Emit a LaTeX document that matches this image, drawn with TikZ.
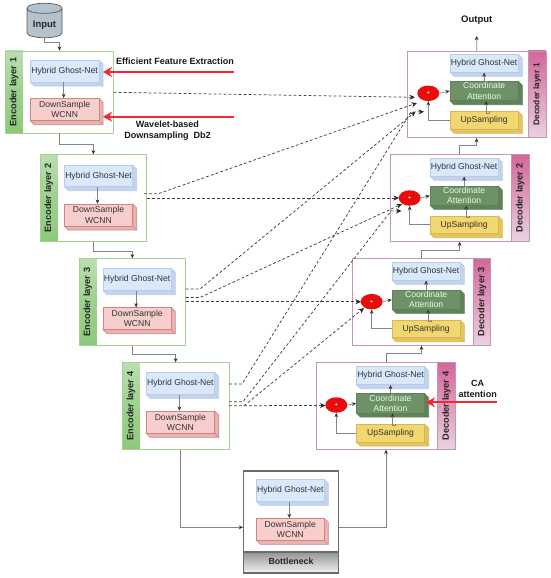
\documentclass[tikz,border=0pt]{standalone}
\usepackage{fontspec}
\setmainfont{Liberation Sans}
\usetikzlibrary{arrows.meta,calc,shapes.geometric}
\definecolor{hbF}{HTML}{DAE8FC}\definecolor{hbS}{HTML}{B9CDEA}\definecolor{hbD}{HTML}{C3D4EE}
\definecolor{dwF}{HTML}{F8CECC}\definecolor{dwS}{HTML}{CF8583}\definecolor{dwD}{HTML}{E8B4B2}
\definecolor{caF}{HTML}{6F9168}\definecolor{caS}{HTML}{5F8258}\definecolor{caD}{HTML}{5F8258}
\definecolor{upF}{HTML}{F2D66F}\definecolor{upS}{HTML}{D6B656}\definecolor{upD}{HTML}{E3C65E}
\definecolor{encL}{HTML}{A5D195}\definecolor{encD}{HTML}{8CC97A}\definecolor{decL}{HTML}{C198B4}
\definecolor{decT}{HTML}{D5669A}\definecolor{decB}{HTML}{E8D2E0}
\definecolor{inF}{HTML}{B4C2CE}\definecolor{redA}{HTML}{FA2433}\definecolor{redC}{HTML}{E80C0C}
\definecolor{txt}{HTML}{333333}\definecolor{wire}{HTML}{858585}
\tikzset{
  frameE/.style={draw=encL,line width=.8pt,fill=white,inner sep=0pt},
  frameD/.style={draw=decL,line width=.8pt,fill=white,inner sep=0pt},
  frameB/.style={draw=black!58,line width=1.4pt,fill=white,inner sep=0pt},
  bandtext/.style={rotate=90,font=\bfseries\fontsize{9.2}{10}\selectfont,text=black!85,inner sep=0pt},
  wirearrow/.style={draw=wire,line width=.8pt,-{Stealth[length=4.2pt,width=3.8pt,color=black!80]}},
  dasharrow/.style={draw=black!75,line width=.75pt,dash pattern=on 2.8pt off 2.2pt,-{Stealth[length=5.5pt,width=5pt,color=black!85]}},
  redarrow/.style={draw=redA,color=redA,line width=1.7pt,-{Stealth[length=9pt,width=10pt]}},
  note/.style={font=\bfseries\fontsize{9.05}{10.9}\selectfont,text=black!90,align=center,inner sep=0pt},
  addnode/.style={ellipse,fill=redC,inner sep=0pt},
}
% name x1 y1 x2 y2 fill stroke side textcolor
\newcommand{\boxlabel}{}
\newcommand{\cubebox}[9]{%
  \pgfmathsetmacro{\xa}{#2}\pgfmathsetmacro{\ya}{#3}\pgfmathsetmacro{\xb}{#4}\pgfmathsetmacro{\yb}{#5}
  \pgfmathsetmacro{\xf}{\xb-4}\pgfmathsetmacro{\yf}{\yb-4}
  \pgfmathsetmacro{\xg}{\xa+4}\pgfmathsetmacro{\yg}{\ya+4}
  \pgfmathsetmacro{\cenx}{(\xa+\xf)/2}\pgfmathsetmacro{\ceny}{(\ya+\yf)/2}
  \pgfmathsetmacro{\bw}{\xf-\xa}\pgfmathsetmacro{\bh}{\yf-\ya}
  \filldraw[fill=#8,draw=#7,line width=.6pt] (\xf,\ya)--(\xb,\yg)--(\xb,\yb)--(\xg,\yb)--(\xa,\yf)--(\xf,\yf)--cycle;
  \draw[draw=#7,line width=.6pt] (\xf,\yf)--(\xb,\yb);
  \node[fill=#6,draw=#7,line width=.6pt,minimum width=\bw pt,minimum height=\bh pt,inner sep=0pt,align=center,
    font=\fontsize{8.6}{10.4}\selectfont,text=#9] (#1) at (\cenx,\ceny) {\boxlabel};
}
\newcommand{\hyb}[5]{\renewcommand{\boxlabel}{Hybrid Ghost-Net}\cubebox{#1}{#2}{#3}{#4}{#5}{hbF}{hbS}{hbD}{txt}}
\newcommand{\dwn}[5]{\renewcommand{\boxlabel}{DownSample\\WCNN}\cubebox{#1}{#2}{#3}{#4}{#5}{dwF}{dwS}{dwD}{txt}}
\newcommand{\coa}[5]{\renewcommand{\boxlabel}{Coordinate\\Attention}\cubebox{#1}{#2}{#3}{#4}{#5}{caF}{caS}{caD}{white!88!green}}
\newcommand{\ups}[5]{\renewcommand{\boxlabel}{UpSampling}\cubebox{#1}{#2}{#3}{#4}{#5}{upF}{upS}{upD}{txt}}
\newcommand{\outerbox}[6]{%
  \pgfmathsetmacro{\cenx}{(#2+#4)/2}\pgfmathsetmacro{\ceny}{(#3+#5)/2}
  \pgfmathsetmacro{\bw}{#4-(#2)}\pgfmathsetmacro{\bh}{#5-(#3)}
  \node[#6,minimum width=\bw pt,minimum height=\bh pt] (#1) at (\cenx,\ceny) {};
}
\newcommand{\encoder}[7]{% id n x1 y1 x2 y2 band-right
  \outerbox{e#1}{#3}{#4}{#5}{#6}{frameE}
  \shade[bottom color=encD,top color=encD!60,middle color=encD!85] (#3,#4) rectangle (#7,#6);
  \draw[encL,line width=.8pt] (#3,#4) rectangle (#5,#6);
  \pgfmathsetmacro{\lx}{(#3+#7)/2}\pgfmathsetmacro{\ly}{(#4+#6)/2}
  \node[bandtext] (el#1) at (\lx,\ly) {Encoder layer #2};
}
\newcommand{\decoder}[7]{% id n x1 y1 x2 y2 band-left
  \outerbox{d#1}{#3}{#4}{#5}{#6}{frameD}
  \shade[top color=decT,bottom color=decB] (#7,#4) rectangle (#5,#6);
  \draw[decL,line width=.8pt] (#3,#4) rectangle (#5,#6);
  \draw[decL,line width=.8pt] (#7,#4) -- (#7,#6);
  \pgfmathsetmacro{\lx}{(#7+#5)/2}\pgfmathsetmacro{\ly}{(#4+#6)/2}
  \node[bandtext] (dl#1) at (\lx,\ly) {Decoder layer #2};
}
\newcommand{\addcircle}[3]{%
  \node[addnode,minimum width=22pt,minimum height=15.5pt] (#1) at (#2,#3) {};
  \node[font=\bfseries\fontsize{5}{5}\selectfont,text=white,inner sep=0pt] (#1t) at (#2,#3) {+};
}
\begin{document}
\begin{tikzpicture}[x=1pt,y=-1pt]
\useasboundingbox (0,0) rectangle (550,578);
% input
\filldraw[fill=inF,draw=black!65,line width=.7pt]
  (27,8.3)--(27,32.7) .. controls (27,39.4) and (62,39.4) .. (62,32.7)--(62,8.3)
  .. controls (62,1.6) and (27,1.6) .. (27,8.3)
  .. controls (27,15) and (62,15) .. (62,8.3);
\node[font=\bfseries\fontsize{9.5}{11}\selectfont,text=black!85,minimum width=35pt,minimum height=25.4pt,inner sep=0pt] (input) at (44.5,25) {Input};
% encoders
\encoder{1}{1}{5.3}{51}{113.7}{133}{22.5}
\encoder{2}{2}{40}{154.7}{146.7}{241.3}{57.7}
\encoder{3}{3}{79}{258.7}{185.7}{345.3}{96.7}
\encoder{4}{4}{122.3}{362.7}{229}{449.3}{139.7}
\hyb{h1}{30.3}{60}{103}{86}\dwn{w1}{30.3}{98.3}{103}{124.7}
\hyb{h2}{64.3}{165}{136.7}{190.7}\dwn{w2}{64.3}{204}{136.7}{230}
\hyb{h3}{103}{268.3}{175.3}{294.7}\dwn{w3}{103}{307.7}{175.3}{333.7}
\hyb{h4}{146}{372.3}{218.7}{398.3}\dwn{w4}{146}{411}{218.7}{437.3}
% bottleneck
\outerbox{bn}{243.7}{471}{338.7}{573}{frameB}
\shade[top color=black!42,bottom color=black!4] (243.7,552) rectangle (338.7,573);
\draw[black!58,line width=1.4pt] (243.7,471) rectangle (338.7,573) (243.7,552)--(338.7,552);
\node[font=\bfseries\fontsize{8.8}{10}\selectfont,text=black!85,inner sep=0pt] (bnl) at (291,561) {Bottleneck};
\hyb{hb}{256.3}{479.3}{328.3}{505.3}\dwn{wb}{256.3}{518.3}{328.3}{544.3}
% decoders
\begin{scope}[bandtext/.append style={font=\bfseries\fontsize{8.4}{10}\selectfont}]
\decoder{1}{1}{407.3}{51}{546}{137.7}{528.3}
\end{scope}
\decoder{2}{2}{390.3}{154.7}{529}{241.3}{511.3}
\decoder{3}{3}{352.3}{258.3}{490.7}{345.3}{473.3}
\decoder{4}{4}{316.7}{362.7}{455.3}{449.3}{437.7}
\hyb{p1}{450}{54.3}{522.3}{76.3}\coa{c1}{450}{81.3}{522.3}{104.7}\ups{u1}{450}{111.7}{522.3}{133.3}
\hyb{p2}{430}{158.3}{502.3}{180.3}\coa{c2}{430}{186}{502.3}{209.3}\ups{u2}{430}{216}{502.3}{237.7}
\hyb{p3}{392}{262.7}{464.3}{284.3}\coa{c3}{392}{290}{464.3}{313.3}\ups{u3}{392}{320}{464.3}{341.7}
\hyb{p4}{356.3}{366.7}{428.7}{388.7}\coa{c4}{356.3}{393.7}{428.7}{417}\ups{u4}{356.3}{424.3}{428.7}{446}
\addcircle{a1}{428.3}{93.3}\addcircle{a2}{409.7}{198}\addcircle{a3}{371.7}{301.7}\addcircle{a4}{336.3}{405}
% texts
\node[font=\bfseries\fontsize{9.5}{11}\selectfont,text=black!90,inner sep=0pt] (out) at (476.7,20.5) {Output};
\node[note] (nfe) at (175,61) {Efficient Feature Extraction};
\node[note] (nwv) at (167.5,130.5) {Wavelet-based\\Downsampling\ \ Db2};
\node[note] (nca) at (477.7,389) {CA\\attention};
% solid connectors
\draw[wirearrow] (input.south) -- ++(0,4.3) -| (e1.north);
\draw[wirearrow] (e1.south) -- ++(0,11) -| (e2.north);
\draw[wirearrow] (e2.south) -- ++(0,9.4) -| (e3.north);
\draw[wirearrow] (e3.south) -- ++(0,8.7) -| (e4.north);
\draw[wirearrow] ([xshift=4.3pt]e4.south) |- ([yshift=-5.3pt]bn.west);
\draw[wirearrow] ([yshift=-5.3pt]bn.east) -| (d4.south);
\draw[wirearrow] (d4.north) -- ++(0,-8.7) -| (d3.south);
\draw[wirearrow] (d3.north) -- ++(0,-7.3) -| (d2.south);
\draw[wirearrow] (d2.north) -- ++(0,-8.7) -| (d1.south);
\coordinate (outtip) at (476.7,36);
\draw[wirearrow] (d1.north) -- (outtip);
\foreach \i in {1,2,3,4,b}{
  \draw[wirearrow,line width=.7pt] ([xshift=-1pt]h\i.south) -- ([xshift=-1pt]w\i.north);
}
\foreach \i in {1,2,3,4}{
  \draw[wirearrow,line width=.7pt] (c\i.north) -- (p\i.south);
  \draw[wirearrow] ([xshift=5pt]u\i.north) -- ++(0,1.7) -| ([xshift=2pt]c\i.south);
  \draw[wirearrow,line width=.7pt] (a\i.east) -- (c\i.west);
  \draw[wirearrow] (u\i.west) -| (a\i.south);
}
% dashed
\coordinate (s1a) at (113.7,92.3);\coordinate (t1a) at (415,97.3);
\draw[dasharrow] (s1a) -- (t1a);
\coordinate (s2a) at (144,193.7);\coordinate (k2a) at (158.3,193.7);\coordinate (t2a) at (417,103);
\draw[dasharrow] (s2a) -- (k2a) -- (t2a);
\coordinate (s2b) at (146.7,198);\coordinate (t2b) at (399,198);
\draw[dasharrow] (s2b) -- (t2b);
\coordinate (s3a) at (185.7,289);\coordinate (k3a) at (200,289);\coordinate (t3a) at (415.5,111.7);
\draw[dasharrow] (s3a) -- (k3a) -- (t3a);
\coordinate (s3b) at (185.7,297.5);\coordinate (k3b) at (200,297.5);\coordinate (t3b) at (402,204);
\draw[dasharrow] (s3b) -- (k3b) -- (t3b);
\coordinate (s3c) at (185.7,301.7);\coordinate (t3c) at (361,301.7);
\draw[dasharrow] (s3c) -- (t3c);
\coordinate (s4a) at (229,384);\coordinate (k4a) at (242,384);\coordinate (j4a) at (411,112);\coordinate (t4a) at (424,111.7);
\draw[dasharrow] (s4a) -- (k4a) -- (j4a) -- (t4a);
\coordinate (s4b) at (229,401.7);\coordinate (k4b) at (243,401.7);\coordinate (j4b) at (391,211);\coordinate (t4b) at (401.5,211);
\draw[dasharrow] (s4b) -- (k4b) -- (j4b) -- (t4b);
\coordinate (s4c) at (229,405.7);\coordinate (k4c) at (244,405.7);\coordinate (t4c) at (364,308);
\draw[dasharrow] (k4c) -- (t4c);
\coordinate (t4d) at (325.5,405.5);
\draw[dasharrow] (s4c) -- (t4d);
% red arrows
\coordinate (r1) at (234,72);\coordinate (r1t) at (103,72);
\coordinate (r2) at (234,116.7);\coordinate (r2t) at (103,116.7);
\coordinate (r3) at (496.7,402.3);\coordinate (r3t) at (426,402.3);
\draw[redarrow] (r1) -- (r1t);
\draw[redarrow] (r2) -- (r2t);
\draw[redarrow] (r3) -- (r3t);
\end{tikzpicture}
\end{document}
